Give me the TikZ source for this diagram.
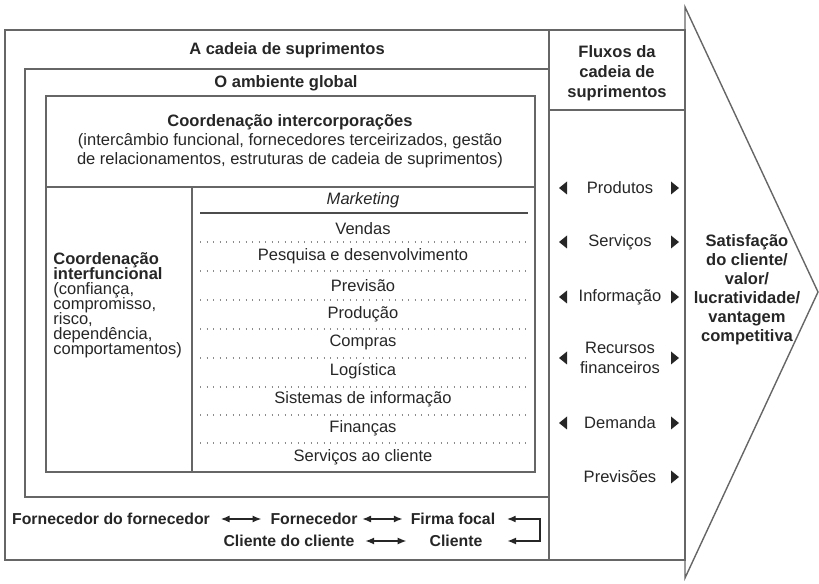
\documentclass[tikz,border=0pt]{standalone}
\usepackage{fontspec}
\setmainfont{Liberation Sans}
\usetikzlibrary{arrows.meta}

\newcommand\tightlines{\lineskiplimit=-10pt\relax}

\tikzset{
    lhead/.pic={\fill[black!85] (-4,0) -- (4,-6.5) -- (4,6.5) -- cycle;},
    rhead/.pic={\fill[black!85] (4,0) -- (-4,-6.5) -- (-4,6.5) -- cycle;}
}

\begin{document}
\begin{tikzpicture}[
    x=0.02cm, y=-0.02cm,
    frame/.style={draw=black!60, line width=0.8pt},
    txt/.style={text=black!85, inner sep=0pt, font=\fontsize{9.4}{10.8}\selectfont},
    head/.style={txt, align=center, font=\fontsize{9.4}{10.8}\selectfont\bfseries},
    flow/.style={txt, align=center, font=\fontsize{9.4}{11.3}\selectfont},
    sep/.style={draw=black!45, line width=0.6pt, dash pattern=on 0.5pt off 3.2pt},
    dbl/.style={{Latex[length=5pt,width=4pt]}-{Latex[length=5pt,width=4pt]},
                draw=black!85, line width=0.8pt}
]
\useasboundingbox (0,0) rectangle (819,584);

% boxes
\draw[frame] (5,30) rectangle (685,560);
\draw[frame] (549,30) -- (549,560);
\draw[frame] (549,110) -- (685,110);
\draw[frame] (25,69) rectangle (549,497);
\draw[frame] (46,96) rectangle (535,472);
\draw[frame] (46,187) -- (535,187);
\draw[frame] (192,187) -- (192,472);
\draw[frame] (685,7) -- (818,292) -- (685,578) -- cycle;

% titles
\node[head] (cadeia)   at (287,50) {A cadeia de suprimentos};
\node[head] (ambiente) at (286,83) {O ambiente global};
\node[txt, align=center] (inter) at (290,141)
    {\textbf{Coordenação intercorporações}\\
     (intercâmbio funcional, fornecedores terceirizados, gestão\\
     de relacionamentos, estruturas de cadeia de suprimentos)};
\node[txt, align=left, anchor=west,
      font={\fontsize{9.4}{8.5}\selectfont\tightlines}] (interf) at (53,305)
    {\textbf{Coordenação}\\ \textbf{interfuncional}\\ (confiança,\\ compromisso,\\
     risco,\\ dependência,\\ comportamentos)};

% functions
\node[txt, font=\fontsize{9.4}{10.8}\selectfont\itshape] (mkt) at (363,200) {Marketing};
\draw[draw=black!70, line width=0.9pt] (200,213) -- (528,213);
\foreach \name [count=\i] in {Vendas, Pesquisa e desenvolvimento, Previsão, Produção,
    Compras, Logística, Sistemas de informação, Finanças, Serviços ao cliente}
    \node[txt] (fn\i) at (363,{199.5+28.6*\i}) {\name};
\foreach \y in {242,271,300,329,358,387,415,443}
    \draw[sep] (200,\y) -- (528,\y);

% flows
\node[head, font=\fontsize{9.4}{11.3}\selectfont\bfseries] (fluxos) at (617,73)
    {Fluxos da\\ cadeia de\\ suprimentos};
\node[flow] (prod) at (620,188) {Produtos};
\node[flow] (serv) at (620,242) {Serviços};
\node[flow] (info) at (620,297) {Informação};
\node[flow] (rec)  at (620,358) {Recursos\\ financeiros};
\node[flow] (dem)  at (620,423) {Demanda};
\node[flow] (prev) at (620,477) {Previsões};
\foreach \y in {188,242,297,358,423}
    \pic at (563,\y) {lhead};
\foreach \y in {188,242,297,358,423,477}
    \pic at (675,\y) {rhead};

\node[head, font=\fontsize{9.4}{10.8}\selectfont\bfseries] (satis) at (747,290)
    {Satisfação\\ do cliente/\\ valor/\\ lucratividade/\\ vantagem\\ competitiva};

% chain
\node[head, font=\fontsize{9}{10}\selectfont\bfseries] (ff)    at (111,519) {Fornecedor do fornecedor};
\node[head, font=\fontsize{9}{10}\selectfont\bfseries] (forn)  at (314,519) {Fornecedor};
\node[head, font=\fontsize{9}{10}\selectfont\bfseries] (firma) at (453,519) {Firma focal};
\node[head, font=\fontsize{9}{10}\selectfont\bfseries] (cc)    at (289,541) {Cliente do cliente};
\node[head, font=\fontsize{9}{10}\selectfont\bfseries] (cli)   at (456,541) {Cliente};
\coordinate (rt) at (540,519);
\coordinate (rb) at (540,541);

\draw[dbl, shorten <=6pt, shorten >=5pt]   (ff)    -- (forn);
\draw[dbl, shorten <=2.5pt, shorten >=4.5pt] (forn)  -- (firma);
\draw[dbl, shorten <=6pt, shorten >=13pt]  (cc)    -- (cli);
\draw[dbl, shorten <=6.5pt, shorten >=14pt] (firma.east) -- (rt) -- (rb) -- (cli.east);
\end{tikzpicture}
\end{document}
